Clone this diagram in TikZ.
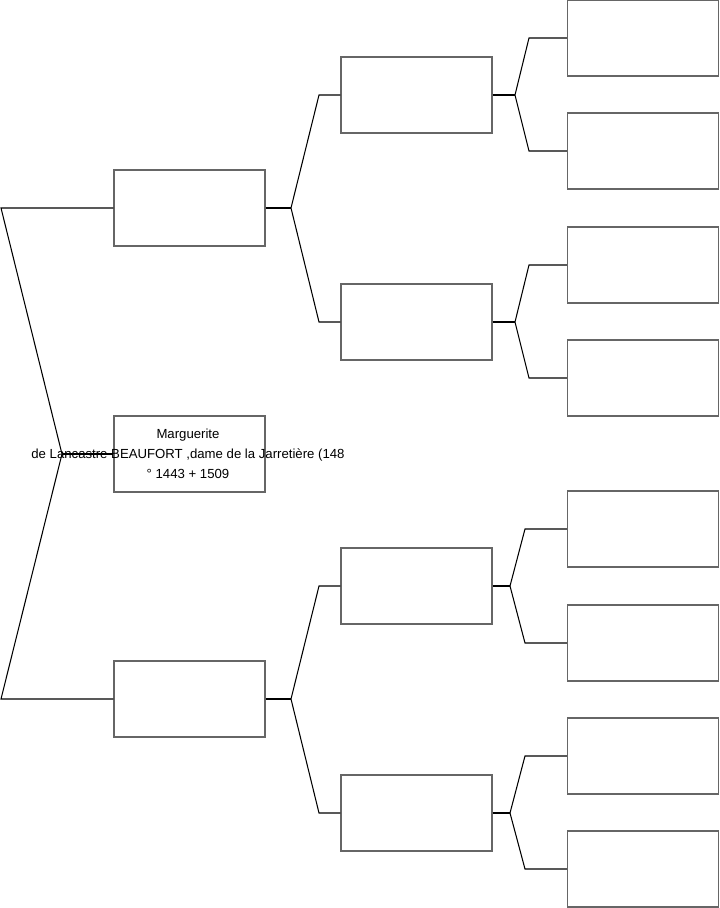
\documentclass[tikz,border=0pt]{standalone}
\usepackage{fontspec}
\setmainfont{Liberation Sans}
\usepackage{tikz}
\usetikzlibrary{positioning, calc}

\begin{document}
\begin{tikzpicture}[
    x=0.02cm, y=-0.02cm,
    box/.style={draw=black!60, line width=0.6pt, minimum width=3.02cm, minimum height=1.52cm, inner sep=0pt},
    link/.style={draw=black, line width=0.6pt},
    persontext/.style={font=\fontsize{7.5}{11.34}\selectfont, align=center, inner sep=0pt}
]
    \useasboundingbox (0,0) rectangle (719,908);

    % generation 1
    \node[box] (s1) at (189.5,454) {};
    \node[persontext] (s1name) at (188,454) {Marguerite\\de Lancastre BEAUFORT ,dame de la Jarretière (148\\° 1443 + 1509};
    \node[box] (s2) at (189.5,208) {};
    \node[box] (s3) at (189.5,699) {};

    % generation 2
    \node[box] (s4) at (416.5,95) {};
    \node[box] (s5) at (416.5,322) {};
    \node[box] (s6) at (416.5,586) {};
    \node[box] (s7) at (416.5,813) {};

    % generation 3
    \node[box] (s8) at (643,38) {};
    \node[box] (s9) at (643,151) {};
    \node[box] (s10) at (643,265) {};
    \node[box] (s11) at (643,378) {};
    \node[box] (s12) at (643,529) {};
    \node[box] (s13) at (643,643) {};
    \node[box] (s14) at (643,756) {};
    \node[box] (s15) at (643,869) {};

    % joints
    \coordinate (v1) at (62,454);
    \coordinate (j2) at (1,208);
    \coordinate (j3) at (1,699);
    \coordinate (v2) at (291,208);
    \coordinate (v3) at (291,699);
    \coordinate (j4) at (319,95);
    \coordinate (j5) at (319,322);
    \coordinate (j6) at (319,586);
    \coordinate (j7) at (319,813);
    \coordinate (v4) at (515,95);
    \coordinate (v5) at (515,322);
    \coordinate (v6) at (510,586);
    \coordinate (v7) at (510,813);

    \draw[link] (v1) -- (s1.west);
    \draw[link] (s2.west) -- (j2) -- (v1) -- (j3) -- (s3.west);

    \draw[link] (s2.east) -- (v2);
    \draw[link] (s4.west) -- (j4) -- (v2) -- (j5) -- (s5.west);
    \draw[link] (s3.east) -- (v3);
    \draw[link] (s6.west) -- (j6) -- (v3) -- (j7) -- (s7.west);

    \draw[link] (s4.east) -- (v4);
    \draw[link] (s8.west) -- ++(-38,0) -- (v4) -- ($(s9.west)+(-38,0)$) -- (s9.west);
    \draw[link] (s5.east) -- (v5);
    \draw[link] (s10.west) -- ++(-38,0) -- (v5) -- ($(s11.west)+(-38,0)$) -- (s11.west);
    \draw[link] (s6.east) -- (v6);
    \draw[link] (s12.west) -- ++(-42,0) -- (v6) -- ($(s13.west)+(-42,0)$) -- (s13.west);
    \draw[link] (s7.east) -- (v7);
    \draw[link] (s14.west) -- ++(-42,0) -- (v7) -- ($(s15.west)+(-42,0)$) -- (s15.west);
\end{tikzpicture}
\end{document}
